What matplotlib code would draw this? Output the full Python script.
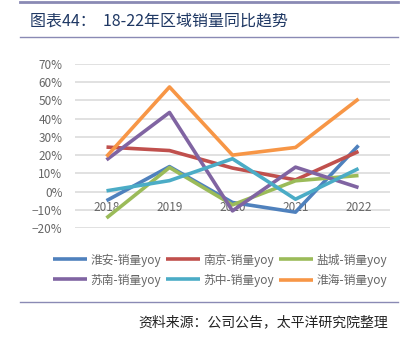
import matplotlib
matplotlib.use("Agg")
import matplotlib.pyplot as plt
from matplotlib.lines import Line2D
from matplotlib.ticker import PercentFormatter

plt.rcParams["font.family"] = ["Noto Sans CJK SC", "DejaVu Sans"]

years = ["2018", "2019", "2020", "2021", "2022"]
series_names = ["淮安-销量yoy", "南京-销量yoy", "盐城-销量yoy",
                "苏南-销量yoy", "苏中-销量yoy", "淮海-销量yoy"]
huaian = [-5.0, 13.7, -6.0, -11.3, 25.3]
nanjing = [24.4, 22.5, 12.9, 6.4, 22.0]
yancheng = [-14.5, 13.2, -7.3, 5.9, 8.8]
sunan = [17.4, 43.4, -10.6, 13.4, 2.2]
suzhong = [0.4, 6.0, 18.0, -4.2, 12.6]
huaihai = [19.2, 57.4, 20.0, 24.2, 50.8]

colors = ["#4F81BD", "#C0504D", "#9BBB59", "#8064A2", "#4BACC6", "#F79646"]
all_series = [huaian, nanjing, yancheng, sunan, suzhong, huaihai]

fig = plt.figure(figsize=(4.1, 3.38), dpi=100)
ax = fig.add_axes([75 / 410, 1 - 228 / 338, 315 / 410, 164 / 338])

x = list(range(len(years)))
handles = []
for vals, c, name in zip(all_series, colors, series_names):
    h, = ax.plot(x, vals, color=c, lw=2.6, solid_capstyle="butt", zorder=3, label=name)
    handles.append(h)

ax.set_xlim(-0.5, 4.5)
ax.set_ylim(-20, 70)
ax.set_yticks(range(-20, 71, 10))
ax.yaxis.set_major_formatter(PercentFormatter(decimals=0))
ax.set_xticks([])
ax.grid(axis="y", color="#d9d9d9", lw=1.1, zorder=0)
ax.set_axisbelow(True)
for s in ax.spines.values():
    s.set_visible(False)
ax.tick_params(axis="y", length=0, pad=9, labelsize=8.5, labelcolor="#666666")

# category labels sit just under the zero line
for xi, yr in zip(x, years):
    ax.text(xi, -8.7, yr, ha="center", va="center", fontsize=8.5,
            color="#666666", zorder=1)

order = [0, 3, 1, 4, 2, 5]
fig.legend([handles[i] for i in order], [series_names[i] for i in order],
           ncol=3, loc="center", bbox_to_anchor=(220 / 410, 1 - 270 / 338),
           frameon=False, fontsize=8.5, labelcolor="#666666",
           handlelength=2.9, handletextpad=0.3, columnspacing=0.4,
           labelspacing=0.6)

# title and frame lines
fig.add_artist(Line2D([20 / 410, 398 / 410], [1 - 2 / 338] * 2, color="#8a8ab4", lw=2))
fig.add_artist(Line2D([20 / 410, 398 / 410], [1 - 37 / 338] * 2, color="#8a8ab4", lw=1))
fig.add_artist(Line2D([20 / 410, 398 / 410], [1 - 302 / 338] * 2, color="#8a8ab4", lw=1))
fig.text(30 / 410, 1 - 21 / 338, "图表44：  18-22年区域销量同比趋势",
         fontsize=11.5, color="#1f3864", va="center", ha="left")
fig.text(388 / 410, 1 - 322 / 338, "资料来源：公司公告，太平洋研究院整理",
         fontsize=10, color="#222222", va="center", ha="right", style="italic")

fig.savefig("out.png", dpi=100)
